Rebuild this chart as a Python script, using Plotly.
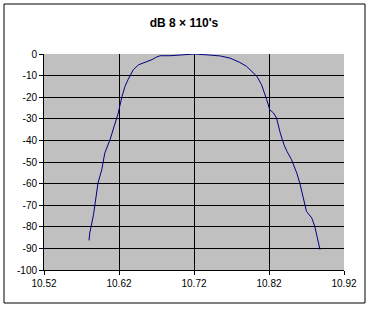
import plotly.graph_objects as go

freq = [10.580, 10.581, 10.586, 10.590, 10.592, 10.597, 10.601, 10.608, 10.615,
        10.619, 10.624, 10.628, 10.632, 10.639, 10.646, 10.657, 10.664, 10.670,
        10.675, 10.688, 10.706, 10.721, 10.741, 10.755, 10.768, 10.781, 10.790,
        10.797, 10.804, 10.810, 10.815, 10.817, 10.821, 10.826, 10.830, 10.835,
        10.840, 10.844, 10.850, 10.857, 10.861, 10.866, 10.870, 10.877, 10.881,
        10.884, 10.888]
db = [-86.3, -82.9, -74.4, -64.4, -59.7, -53.6, -45.9, -39.7, -31.2,
      -27.3, -19.6, -15.0, -11.9, -7.3, -5.0, -3.7, -2.6, -1.4,
      -0.8, -0.8, -0.2, 0.0, -0.5, -0.9, -1.9, -3.9, -5.7,
      -8.0, -10.4, -14.2, -18.8, -21.2, -25.8, -27.3, -29.6, -36.6,
      -42.0, -45.1, -48.9, -55.1, -59.7, -66.7, -72.9, -75.9, -79.8,
      -84.4, -90.6]

x_ticks = [10.52, 10.62, 10.72, 10.82, 10.92]
x_labels = ["10.52", "10.62", "10.72", "10.82", "10.92"]
y_ticks = [0, -10, -20, -30, -40, -50, -60, -70, -80, -90, -100]
y_labels = ["0", "-10", "-20", "-30", "-40", "-50", "-60", "-70", "-80", "-90", "-100"]
title = "dB 8 × 110's"

fig = go.Figure()
fig.add_trace(go.Scatter(x=freq, y=db, mode="lines",
                         line=dict(color="#000080", width=1), showlegend=False))

font = dict(family="Liberation Sans, Arial, sans-serif", size=10, color="black")
fig.update_layout(
    width=371, height=316,
    margin=dict(l=44, r=27, t=54, b=46),
    paper_bgcolor="white", plot_bgcolor="#C0C0C0",
    font=font,
    title=dict(text="<b>" + title + "</b>", x=184/371, xanchor="center",
               y=1 - 23/316, yanchor="middle",
               font=dict(family="Liberation Sans, Arial, sans-serif", size=12, color="black")),
    xaxis=dict(range=[10.52, 10.92], tickvals=x_ticks, ticktext=x_labels,
               showgrid=True, gridcolor="black", gridwidth=1,
               showline=True, linecolor="black", linewidth=1,
               ticks="outside", ticklen=4, tickcolor="black", zeroline=False,
               fixedrange=True),
    yaxis=dict(range=[-100, 0], tickvals=y_ticks, ticktext=y_labels,
               showgrid=True, gridcolor="black", gridwidth=1,
               showline=True, linecolor="black", linewidth=1,
               ticks="outside", ticklen=4, tickcolor="black", zeroline=False,
               fixedrange=True),
    shapes=[dict(type="rect", xref="paper", yref="paper",
                 x0=(4 - 44) / 300, x1=(365 - 44) / 300,
                 y0=(270 - 303) / 216, y1=(270 - 4) / 216,
                 line=dict(color="black", width=1), layer="below")],
)

fig.write_html("out.html")
